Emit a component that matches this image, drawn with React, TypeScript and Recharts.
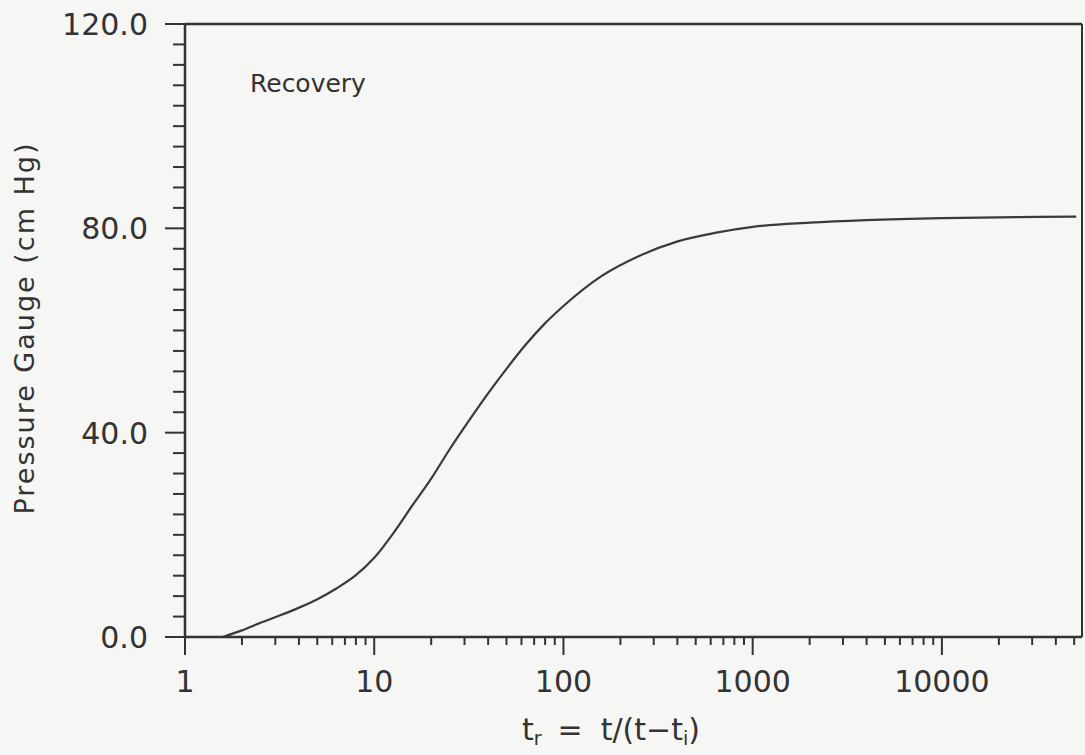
import React from 'react'
import { LineChart, Line, XAxis, YAxis, ReferenceLine } from 'recharts'

// recovery curve
const T_VALUES = [1.585, 2.0, 2.51, 3.16, 3.98, 5.01, 6.31, 7.94, 10, 12.6, 15.8, 20, 25.1, 31.6, 39.8, 50, 63.1, 79.4, 100, 158, 251, 398, 631, 1000, 2000, 3980, 10000, 25100, 51300]
const PRESSURE = [0, 1.3, 2.8, 4.2, 5.7, 7.4, 9.5, 12, 15.5, 20.3, 25.6, 31, 36.8, 42.3, 47.6, 52.5, 57.2, 61.3, 64.8, 70.6, 74.6, 77.4, 79.1, 80.3, 81.1, 81.6, 82.0, 82.2, 82.3]

const X_MAJOR = [1, 10, 100, 1000, 10000]
const X_TICKS = [
  1, 2, 3, 4, 5, 6, 7, 8, 9,
  10, 20, 30, 40, 50, 60, 70, 80, 90,
  100, 200, 300, 400, 500, 600, 700, 800, 900,
  1000, 2000, 3000, 4000, 5000, 6000, 7000, 8000, 9000,
  10000, 20000, 30000, 40000, 50000,
]
const Y_MAJOR = [0, 40, 80, 120]
const Y_TICKS = [0, 4, 8, 12, 16, 20, 24, 28, 32, 36, 40, 44, 48, 52, 56, 60, 64, 68, 72, 76, 80, 84, 88, 92, 96, 100, 104, 108, 112, 116, 120]
const X_MAX = 55000

const data = T_VALUES.map((t, i) => ({ t, p: PRESSURE[i] }))

const INK = '#333'
const FONT = '"DejaVu Sans", sans-serif'

function XTick({ x, y, payload }: any) {
  const major = X_MAJOR.includes(payload.value)
  return (
    <g>
      <line x1={x} x2={x} y1={y - 1} y2={y + (major ? 18 : 8)} stroke={INK} strokeWidth={2} />
      {major && (
        <text x={x} y={y + 55} textAnchor="middle" fontFamily={FONT} fontSize={30} fill={INK}>
          {payload.value}
        </text>
      )}
    </g>
  )
}

function YTick({ x, y, payload }: any) {
  const major = Y_MAJOR.includes(payload.value)
  return (
    <g>
      <line x1={x + 1} x2={x - (major ? 20 : 12)} y1={y} y2={y} stroke={INK} strokeWidth={2} />
      {major && (
        <text x={x - 37} y={y + 11} textAnchor="end" fontFamily={FONT} fontSize={30} fill={INK}>
          {payload.value.toFixed(1)}
        </text>
      )}
    </g>
  )
}

const xLabel = () => (
  <text x={522} y={740} fontFamily={FONT} fontSize={30} fill={INK}>
    <tspan>t</tspan>
    <tspan fontSize={19} dy={5}>r</tspan>
    <tspan dx={16} dy={-5}>=</tspan>
    <tspan dx={18}>t/(t</tspan>
    <tspan>−</tspan>
    <tspan>t</tspan>
    <tspan fontSize={19} dy={5}>i</tspan>
    <tspan dy={-5}>)</tspan>
  </text>
)

const yLabel = () => (
  <g>
    <text
      x={24}
      y={328}
      transform="rotate(-90 24 328)"
      textAnchor="middle"
      dominantBaseline="central"
      fontFamily={FONT}
      fontSize={27}
      letterSpacing={2}
      fill={INK}
    >
      Pressure Gauge (cm Hg)
    </text>
    <text x={250} y={92} fontFamily={FONT} fontSize={25} fill={INK}>
      Recovery
    </text>
  </g>
)

export default function App() {
  return (
    <div style={{ position: 'absolute', left: 0, top: 0, width: 1085, height: 755, background: '#f6f6f4' }}>
      <LineChart width={1085} height={755} data={data} margin={{ top: 24, right: 3, bottom: 0, left: 0 }}>
        <XAxis
          dataKey="t"
          type="number"
          scale="log"
          domain={[1, X_MAX]}
          allowDataOverflow
          ticks={X_TICKS}
          interval={0}
          height={118}
          tickSize={0}
          tickMargin={0}
          tickLine={false}
          tick={<XTick />}
          axisLine={{ stroke: INK, strokeWidth: 2.5 }}
          label={xLabel}
        />
        <YAxis
          type="number"
          domain={[0, 120]}
          ticks={Y_TICKS}
          interval={0}
          width={185}
          tickSize={0}
          tickMargin={0}
          tickLine={false}
          tick={<YTick />}
          axisLine={{ stroke: INK, strokeWidth: 2.5 }}
          label={yLabel}
        />
        <ReferenceLine y={120} stroke={INK} strokeWidth={2.5} />
        <ReferenceLine x={X_MAX} stroke={INK} strokeWidth={2} />
        <Line
          dataKey="p"
          type="monotone"
          stroke="#3a3a3a"
          strokeWidth={2.2}
          dot={false}
          isAnimationActive={false}
        />
      </LineChart>
    </div>
  )
}
